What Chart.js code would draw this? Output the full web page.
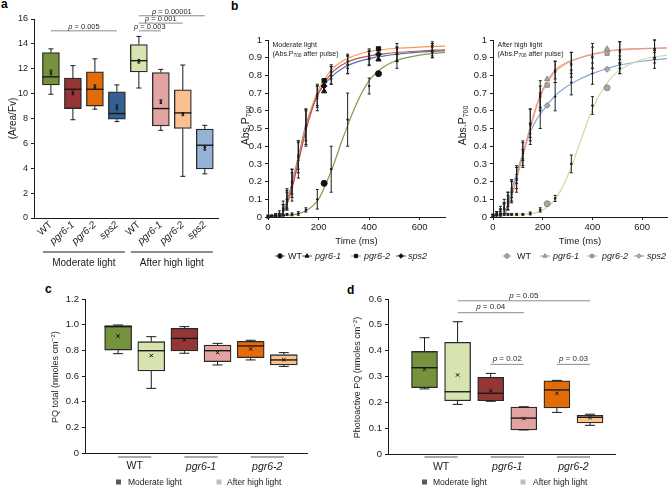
<!DOCTYPE html>
<html>
<head>
<meta charset="utf-8">
<title>PQ and P700 figure</title>
<script src="https://cdn.jsdelivr.net/npm/chart.js@4.4.1/dist/chart.umd.min.js"></script>
<style>
  html, body { margin: 0; padding: 0; background: #fff; }
  body { position: relative; width: 672px; height: 500px; overflow: hidden; font-family: "Liberation Sans", Arial, sans-serif; }
  canvas { position: absolute; }
  .tag { position: absolute; font-weight: bold; font-size: 12px; line-height: 12px; color: #000; }
</style>
</head>
<body>
<div class="tag" style="left:1px;top:-2px">a</div>
<div class="tag" style="left:231px;top:0px">b</div>
<div class="tag" style="left:45px;top:283px">c</div>
<div class="tag" style="left:347px;top:284px">d</div>
<canvas id="chartA" width="225" height="280" style="left:0;top:0"></canvas>
<canvas id="chartB1" width="250" height="280" style="left:200px;top:0"></canvas>
<canvas id="chartB2" width="232" height="280" style="left:440px;top:0"></canvas>
<canvas id="chartC" width="330" height="220" style="left:0;top:280px"></canvas>
<canvas id="chartD" width="342" height="220" style="left:330px;top:280px"></canvas>
<script>
const FONT = '"Liberation Sans", Arial, Helvetica, sans-serif';
Chart.defaults.font.family = FONT;
Chart.defaults.color = '#1a1a1a';
Chart.defaults.animation = false;
Chart.defaults.responsive = false;
Chart.defaults.plugins.legend.display = false;
Chart.defaults.plugins.tooltip.enabled = false;

// ---------- panel a : (Area/Fv)
const aGenotypes = ['WT', 'pgr6-1', 'pgr6-2', 'sps2', 'WT', 'pgr6-1', 'pgr6-2', 'sps2'];
const aGroups = ['Moderate light', 'After high light'];
const aLow    = [9.95, 7.9, 8.75, 7.75, 10.45, 7.05, 3.35, 3.55];
const aQ1     = [10.7, 8.8, 9.0, 7.95, 11.75, 7.4, 7.2, 3.95];
const aMedian = [11.35, 10.35, 10.35, 8.4, 12.65, 8.8, 8.45, 5.85];
const aQ3     = [13.3, 11.25, 11.75, 10.15, 13.95, 11.7, 10.3, 7.15];
const aHigh   = [13.6, 12.25, 12.8, 10.7, 14.6, 11.95, 12.3, 7.45];
const aMean   = [11.7, 10.05, 10.55, 8.9, 12.6, 9.35, 8.35, 5.6];
const aMeanErr = [0.2, 0.15, 0.15, 0.2, 0.15, 0.15, 0.12, 0.15];
const aTicks = [0, 2, 4, 6, 8, 10, 12, 14, 16];
const aPFrom  = [0, 4, 4, 4];
const aPTo    = [3, 5, 6, 7];
const aPLevel = [15.05, 15.05, 15.67, 16.26];
const aPValue = ['0.005', '0.003', '0.001', '0.00001'];

// ---------- panel b : Abs.P700 induction curves
const bSeries = ['WT', 'pgr6-1', 'pgr6-2', 'sps2'];
const bXTicks = [0, 200, 400, 600];
const bYTicks = [0, 0.1, 0.2, 0.3, 0.4, 0.5, 0.6, 0.7, 0.8, 0.9, 1];
const fitTime = [0, 25, 50, 75, 100, 125, 150, 175, 200, 250, 300, 350, 400, 450, 500, 600, 700];

const mlFitWT  = [0.005, 0.006, 0.008, 0.01, 0.013, 0.02, 0.035, 0.06, 0.1, 0.26, 0.46, 0.64, 0.77, 0.84, 0.88, 0.915, 0.93];
const mlFitP1  = [null, null, 0, 0.07, 0.19, 0.34, 0.49, 0.61, 0.7, 0.81, 0.865, 0.895, 0.91, 0.92, 0.928, 0.938, 0.945];
const mlFitP2  = [null, null, 0, 0.08, 0.21, 0.36, 0.51, 0.63, 0.72, 0.83, 0.885, 0.915, 0.935, 0.945, 0.952, 0.96, 0.965];
const mlFitSps = [null, null, 0.005, 0.09, 0.22, 0.37, 0.52, 0.62, 0.7, 0.79, 0.845, 0.875, 0.895, 0.908, 0.918, 0.932, 0.94];

const mlTime  = [0, 15, 30, 45, 60, 75, 95, 120, 150, 195, 222, 250, 315, 400, 437, 510, 650];
const mlWT     = [0.005, 0.005, 0.01, 0.01, 0.01, 0.015, 0.015, 0.02, 0.04, 0.10, 0.19, 0.27, 0.55, 0.74, 0.81, 0.88, 0.94];
const mlWTErr  = [0.005, 0.005, 0.005, 0.005, 0.005, 0.005, 0.008, 0.01, 0.012, 0.055, 0, 0.13, 0.15, 0.045, 0, 0.04, 0.04];
const mlP1     = [0, 0.005, 0.005, 0.01, 0.04, 0.09, 0.17, 0.32, 0.5, 0.67, 0.71, 0.8, 0.86, 0.895, 0.89, 0.92, 0.94];
const mlP1Err  = [0.005, 0.005, 0.005, 0.01, 0.03, 0.05, 0.08, 0.1, 0.1, 0.07, 0, 0.05, 0.05, 0.04, 0, 0.04, 0.03];
const mlP2     = [0, 0.005, 0.005, 0.01, 0.04, 0.1, 0.19, 0.34, 0.51, 0.69, 0.77, 0.82, 0.88, 0.92, 0.95, 0.95, 0.96];
const mlP2Err  = [0.005, 0.005, 0.005, 0.01, 0.03, 0.05, 0.08, 0.09, 0.1, 0.06, 0, 0.04, 0.04, 0.03, 0, 0.03, 0.03];
const mlSps    = [0.005, 0.005, 0.01, 0.02, 0.05, 0.1, 0.2, 0.35, 0.52, 0.68, 0.74, 0.8, 0.86, 0.9, 0.92, 0.92, 0.94];
const mlSpsErr = [0.005, 0.005, 0.01, 0.015, 0.04, 0.06, 0.07, 0.08, 0.09, 0.06, 0, 0.05, 0.05, 0.04, 0, 0.04, 0.04];

const hlFitWT  = [0.01, 0.01, 0.01, 0.011, 0.012, 0.014, 0.018, 0.025, 0.04, 0.1, 0.23, 0.42, 0.61, 0.74, 0.82, 0.89, 0.915];
const hlFitP1  = [null, null, 0.02, 0.12, 0.25, 0.38, 0.51, 0.63, 0.72, 0.83, 0.875, 0.9, 0.92, 0.935, 0.945, 0.952, 0.955];
const hlFitP2  = [null, null, 0.015, 0.11, 0.24, 0.37, 0.5, 0.62, 0.71, 0.82, 0.87, 0.9, 0.918, 0.932, 0.943, 0.95, 0.955];
const hlFitSps = [null, null, 0.03, 0.15, 0.27, 0.38, 0.48, 0.55, 0.6, 0.685, 0.74, 0.78, 0.81, 0.835, 0.855, 0.88, 0.895];

const hlTime  = [0, 15, 30, 45, 60, 75, 95, 120, 150, 190, 218, 250, 315, 400, 459, 510, 650];
const hlWT     = [0.01, 0.01, 0.01, 0.015, 0.015, 0.015, 0.015, 0.015, 0.02, 0.04, 0.075, 0.105, 0.30, 0.63, 0.73, 0.84, 0.90];
const hlWTErr  = [0.005, 0.005, 0.005, 0.005, 0.005, 0.005, 0.005, 0.005, 0.008, 0.012, 0, 0.017, 0.05, 0.05, 0, 0.03, 0.03];
const hlP1     = [0.01, 0.02, 0.03, 0.05, 0.09, 0.15, 0.22, 0.37, 0.53, 0.69, 0.78, 0.83, 0.87, 0.91, 0.95, 0.93, 0.95];
const hlP1Err  = [0.005, 0.01, 0.015, 0.03, 0.05, 0.06, 0.06, 0.05, 0.08, 0.08, 0, 0.05, 0.06, 0.07, 0, 0.06, 0.05];
const hlP2     = [0.01, 0.02, 0.03, 0.05, 0.08, 0.14, 0.21, 0.36, 0.52, 0.68, 0.745, 0.82, 0.86, 0.9, 0.925, 0.94, 0.95];
const hlP2Err  = [0.005, 0.01, 0.015, 0.03, 0.04, 0.06, 0.07, 0.07, 0.09, 0.06, 0, 0.06, 0.07, 0.06, 0, 0.05, 0.05];
const hlSps    = [0.01, 0.02, 0.04, 0.07, 0.1, 0.16, 0.24, 0.33, 0.47, 0.6, 0.63, 0.68, 0.76, 0.81, 0.835, 0.86, 0.89];
const hlSpsErr = [0.005, 0.01, 0.02, 0.03, 0.04, 0.05, 0.05, 0.05, 0.06, 0.1, 0, 0.08, 0.07, 0.06, 0, 0.05, 0.05];
const bigMarkers = [10, 14];

// ---------- panel c : PQ total
const cdGenotypes = ['WT', 'pgr6-1', 'pgr6-2'];
const cdLegend = ['Moderate light', 'After high light'];
const cTicks = [0, 0.2, 0.4, 0.6, 0.8, 1.0, 1.2];
const cLow    = [0.775, 0.505, 0.778, 0.687, 0.726, 0.676];
const cQ1     = [0.803, 0.64, 0.796, 0.713, 0.744, 0.687];
const cMedian = [0.985, 0.798, 0.894, 0.798, 0.835, 0.726];
const cQ3     = [0.993, 0.868, 0.972, 0.842, 0.871, 0.767];
const cHigh   = [0.998, 0.907, 0.985, 0.855, 0.879, 0.783];
const cMean   = [0.912, 0.76, 0.881, 0.783, 0.811, 0.728];

// ---------- panel d : photoactive PQ
const dTicks = [0, 0.1, 0.2, 0.3, 0.4, 0.5, 0.6];
const dLow    = [0.252, 0.192, 0.204, 0.093, 0.161, 0.111];
const dQ1     = [0.257, 0.206, 0.206, 0.093, 0.178, 0.12];
const dMedian = [0.334, 0.241, 0.235, 0.139, 0.248, 0.142];
const dQ3     = [0.397, 0.432, 0.297, 0.182, 0.283, 0.15];
const dHigh   = [0.45, 0.512, 0.312, 0.183, 0.285, 0.154];
const dMean   = [0.328, 0.306, 0.245, 0.137, 0.235, 0.141];
const dPFrom  = [1, 1, 2, 4];
const dPTo    = [5, 3, 3, 5];
const dPLevel = [0.593, 0.547, 0.347, 0.347];
const dPValue = ['0.05', '0.04', '0.02', '0.03'];

// styles
const colors8 = ['#76923c', '#943634', '#e36c09', '#376092', '#d7e4b0', '#e2a3a1', '#fac08f', '#95b3d7'];
const colors6 = ['#76923c', '#d7e4b0', '#943634', '#e2a3a1', '#e36c09', '#fac08f'];
const AXIS = '#1a1a1a';

function seg(ctx, x1, y1, x2, y2) {
    ctx.beginPath();
    ctx.moveTo(x1, y1);
    ctx.lineTo(x2, y2);
    ctx.stroke();
}

// text made of runs: [text, size, baseline shift, italic]
function runs(ctx, parts, x, y, align) {
    const fontOf = p => `${p[3] ? 'italic ' : ''}${p[1]}px ${FONT}`;
    let w = 0;
    parts.forEach(p => { ctx.font = fontOf(p); w += ctx.measureText(p[0]).width; });
    let cx = align === 'center' ? x - w / 2 : x;
    ctx.textAlign = 'left';
    ctx.textBaseline = 'alphabetic';
    parts.forEach(p => {
        ctx.font = fontOf(p);
        ctx.fillText(p[0], cx, y + (p[2] || 0));
        cx += ctx.measureText(p[0]).width;
    });
}

// whiskers, caps, medians (boxes themselves are floating bars)
const boxPlot = {
    id: 'boxPlot',
    afterDatasetsDraw(chart, args, o) {
        const {ctx} = chart;
        const x = chart.scales.x, y = chart.scales.y;
        const py = v => y.getPixelForValue(v);
        ctx.save();
        ctx.strokeStyle = '#1a1a1a';
        o.median.forEach((m, i) => {
            const px = x.getPixelForValue(i + o.start);
            ctx.lineWidth = 1;
            seg(ctx, px, py(o.low[i]), px, py(o.q1[i]));
            seg(ctx, px, py(o.q3[i]), px, py(o.high[i]));
            seg(ctx, px - o.cap, py(o.low[i]), px + o.cap, py(o.low[i]));
            seg(ctx, px - o.cap, py(o.high[i]), px + o.cap, py(o.high[i]));
            if (o.meanErr) {
                const lo = py(o.mean[i] - o.meanErr[i]), hi = py(o.mean[i] + o.meanErr[i]);
                seg(ctx, px, lo, px, hi);
                seg(ctx, px - 1.2, lo, px + 1.2, lo);
                seg(ctx, px - 1.2, hi, px + 1.2, hi);
            }
            ctx.lineWidth = 1.4;
            seg(ctx, px - o.half, py(m), px + o.half, py(m));
        });
        ctx.restore();
    }
};

const pBars = {
    id: 'pBars',
    afterDraw(chart, args, o) {
        const {ctx} = chart;
        const x = chart.scales.x, y = chart.scales.y;
        ctx.save();
        ctx.strokeStyle = '#8c8c8c';
        ctx.fillStyle = '#2a2a2a';
        ctx.lineWidth = 1;
        o.from.forEach((f, i) => {
            const x1 = x.getPixelForValue(f + o.start), x2 = x.getPixelForValue(o.to[i] + o.start);
            const yy = y.getPixelForValue(o.level[i]);
            seg(ctx, x1, yy, x2, yy);
            runs(ctx, [['p', o.size, 0, true], [' = ' + o.value[i], o.size, 0]], (x1 + x2) / 2, yy - o.lift, 'center');
        });
        ctx.restore();
    }
};

// underlines below the x axis, optional group names
const groupLines = {
    id: 'groupLines',
    afterDraw(chart, args, o) {
        const {ctx, chartArea} = chart;
        const x = chart.scales.x;
        ctx.save();
        ctx.strokeStyle = o.color;
        ctx.fillStyle = '#1a1a1a';
        ctx.lineWidth = 1;
        o.spans.forEach((s, i) => {
            const x1 = x.getPixelForValue(s[0]) - o.extend, x2 = x.getPixelForValue(s[1]) + o.extend;
            const yy = chartArea.bottom + o.lineGap;
            seg(ctx, x1, yy, x2, yy);
            if (o.names) runs(ctx, [[o.names[i], o.size, 0]], (x1 + x2) / 2, chartArea.bottom + o.textGap, 'center');
        });
        ctx.restore();
    }
};

const squareLegend = {
    id: 'squareLegend',
    afterDraw(chart, args, o) {
        const {ctx} = chart;
        ctx.save();
        o.names.forEach((n, i) => {
            ctx.fillStyle = o.colors[i];
            ctx.fillRect(o.boxX[i] - 2.5, o.y - 2.5, 5, 5);
            ctx.fillStyle = '#1a1a1a';
            runs(ctx, [[n, 8.5, 0]], o.textX[i], o.y + 3, 'left');
        });
        ctx.restore();
    }
};

const sideTitle = {
    id: 'sideTitle',
    afterDraw(chart, args, o) {
        const {ctx, chartArea} = chart;
        ctx.save();
        ctx.fillStyle = '#1a1a1a';
        ctx.translate(o.x, (chartArea.top + chartArea.bottom) / 2 + (o.dy || 0));
        ctx.rotate(-Math.PI / 2);
        runs(ctx, o.parts, 0, o.size * 0.36, 'center');
        ctx.restore();
    }
};

const errBars = {
    id: 'errBars',
    afterDatasetsDraw(chart) {
        const {ctx} = chart;
        const y = chart.scales.y;
        ctx.save();
        ctx.strokeStyle = '#1f1f1f';
        ctx.lineWidth = 1;
        chart.data.datasets.forEach((ds, di) => {
            if (!ds.errors) return;
            chart.getDatasetMeta(di).data.forEach((pt, i) => {
                const e = ds.errors[i];
                if (!e) return;
                const v = ds.data[i].y;
                const y1 = y.getPixelForValue(v - e), y2 = y.getPixelForValue(v + e);
                seg(ctx, pt.x, y1, pt.x, y2);
                seg(ctx, pt.x - 1.5, y1, pt.x + 1.5, y1);
                seg(ctx, pt.x - 1.5, y2, pt.x + 1.5, y2);
            });
        });
        ctx.restore();
    }
};

const curveNotes = {
    id: 'curveNotes',
    afterDraw(chart, args, o) {
        const {ctx, chartArea: ca} = chart;
        ctx.save();
        ctx.fillStyle = '#1a1a1a';
        runs(ctx, [[o.note, 7, 0]], ca.left + 4.5, ca.top + 7, 'left');
        runs(ctx, [['(Abs.P', 7, 0], ['700', 4.8, 1.8], [' after pulse)', 7, 0]], ca.left + 4.5, ca.top + 15.5, 'left');
        // legend
        const n = bSeries.length;
        bSeries.forEach((name, i) => {
            const fit = chart.data.datasets[i], obs = chart.data.datasets[i + n];
            const mx = o.markX[i];
            ctx.strokeStyle = fit.borderColor;
            ctx.lineWidth = 1.2;
            seg(ctx, mx - 5, o.y, mx + 5, o.y);
            ctx.fillStyle = o.markFill;
            ctx.strokeStyle = o.markEdge;
            ctx.lineWidth = 1;
            Chart.helpers.drawPoint(ctx, {pointStyle: obs.pointStyle, radius: 2.3, borderWidth: 1, rotation: 0}, mx, o.y);
            ctx.fillStyle = '#1a1a1a';
            runs(ctx, [[name, 9, 0, i > 0]], o.textX[i], o.y + 3.2, 'left');
        });
        ctx.restore();
    }
};

function boxChart(id, cfg) {
    return new Chart(document.getElementById(id), {
        type: 'bar',
        data: {
            datasets: [{
                data: cfg.q1.map((q, i) => ({x: i + cfg.start, y: [q, cfg.q3[i]]})),
                backgroundColor: cfg.colors,
                borderColor: '#2a2a2a',
                borderWidth: 1.3,
                borderSkipped: false,
                barThickness: cfg.boxWidth,
                order: 2
            }, {
                type: 'scatter',
                data: cfg.mean.map((m, i) => ({x: i + cfg.start, y: m})),
                pointStyle: 'crossRot',
                pointRadius: cfg.meanSize,
                borderColor: '#111',
                borderWidth: 1,
                order: 1
            }]
        },
        options: {
            layout: {padding: cfg.padding},
            scales: {
                x: {
                    type: 'linear', min: cfg.xMin, max: cfg.xMax, offset: false,
                    grid: {display: false, drawTicks: false, tickLength: 0},
                    border: {color: AXIS, width: 1},
                    afterBuildTicks: s => { s.ticks = cfg.xTicks.map(v => ({value: v})); },
                    ticks: {
                        autoSkip: false, color: '#1a1a1a',
                        minRotation: cfg.rotation, maxRotation: cfg.rotation, padding: cfg.tickPad,
                        callback: (v, i) => cfg.xLabels[i],
                        font: c => ({size: cfg.xFont, style: cfg.xLabels[c.index] === 'WT' ? 'normal' : 'italic'})
                    },
                    afterFit: s => { s.height = cfg.xHeight; }
                },
                y: {
                    min: cfg.yTicks[0], max: cfg.yTicks[cfg.yTicks.length - 1],
                    afterBuildTicks: s => { s.ticks = cfg.yTicks.map(v => ({value: v})); },
                    ticks: {padding: 3, color: '#1a1a1a', font: {size: cfg.yFont}, callback: cfg.yFormat},
                    grid: {drawOnChartArea: false, tickLength: 3, color: AXIS},
                    border: {color: AXIS, width: 1},
                    afterFit: s => { s.width = cfg.yWidth; }
                }
            },
            plugins: {
                boxPlot: {start: cfg.start, low: cfg.low, q1: cfg.q1, median: cfg.median, q3: cfg.q3, high: cfg.high,
                          mean: cfg.mean, meanErr: cfg.meanErr, cap: cfg.cap, half: cfg.boxWidth / 2},
                pBars: cfg.pBars,
                groupLines: cfg.groups,
                squareLegend: cfg.legend,
                sideTitle: cfg.title
            }
        },
        plugins: [boxPlot, sideTitle, groupLines].concat(cfg.pBars ? [pBars] : []).concat(cfg.legend ? [squareLegend] : [])
    });
}

// panel a
boxChart('chartA', {
    start: 0, low: aLow, q1: aQ1, median: aMedian, q3: aQ3, high: aHigh, mean: aMean, meanErr: aMeanErr,
    colors: colors8, boxWidth: 17, cap: 2.5, meanSize: 1.8,
    padding: {top: 19, right: 7, left: 0, bottom: 0},
    xMin: -0.77, xMax: 7.6, xTicks: aGenotypes.map((g, i) => i), xLabels: aGenotypes,
    rotation: 42, tickPad: 1, xFont: 10, xHeight: 62,
    yTicks: aTicks, yFont: 9, yWidth: 34, yFormat: v => String(v),
    title: {x: 12.5, size: 10, parts: [['(Area/Fv)', 10, 0]]},
    groups: {spans: [[0, 3], [4, 7]], extend: 8, lineGap: 34, textGap: 47.5, color: '#1a1a1a', names: aGroups, size: 10},
    pBars: {start: 0, from: aPFrom, to: aPTo, level: aPLevel, value: aPValue, size: 7.5, lift: 1.8}
});

// panel c
boxChart('chartC', {
    start: 1, low: cLow, q1: cQ1, median: cMedian, q3: cQ3, high: cHigh, mean: cMean,
    colors: colors6, boxWidth: 27, cap: 5, meanSize: 2.4,
    padding: {top: 19, right: 23, left: 0, bottom: 0},
    xMin: 0, xMax: 6.7, xTicks: [1.5, 3.5, 5.5], xLabels: cdGenotypes,
    rotation: 0, tickPad: 7, xFont: 10.5, xHeight: 46.7,
    yTicks: cTicks, yFont: 9.5, yWidth: 85, yFormat: v => v === 0 ? '0' : v.toFixed(1),
    title: {x: 55, size: 9, dy: 1, parts: [['PQ total (nmoles cm', 9, 0], ['\u22122', 6.2, -3.6], [')', 9, 0]]},
    groups: {spans: [[1, 2], [3, 4], [5, 6]], extend: 0, lineGap: 3.7, color: '#555'},
    legend: {names: cdLegend, colors: ['#595959', '#bfbfbf'], boxX: [118.5, 219], textX: [128, 227], y: 202}
});

// panel d
boxChart('chartD', {
    start: 1, low: dLow, q1: dQ1, median: dMedian, q3: dQ3, high: dHigh, mean: dMean,
    colors: colors6, boxWidth: 26, cap: 5, meanSize: 2.4,
    padding: {top: 19, right: 57, left: 0, bottom: 0},
    xMin: -0.103, xMax: 6.755, xTicks: [1.5, 3.5, 5.5], xLabels: cdGenotypes,
    rotation: 0, tickPad: 7, xFont: 10.5, xHeight: 46,
    yTicks: dTicks, yFont: 9.5, yWidth: 58, yFormat: v => v === 0 ? '0' : v.toFixed(1),
    title: {x: 27, size: 9, dy: 1, parts: [['Photoactive PQ (nmoles cm', 9, 0], ['\u22122', 6.2, -3.6], [')', 9, 0]]},
    groups: {spans: [[1, 2], [3, 4], [5, 6]], extend: 0, lineGap: 3, color: '#555'},
    pBars: {start: 1, from: dPFrom, to: dPTo, level: dPLevel, value: dPValue, size: 8, lift: 3.3},
    legend: {names: cdLegend, colors: ['#595959', '#bfbfbf'], boxX: [94.5, 193], textX: [103, 203], y: 202}
});

// panel b
function curveChart(id, cfg) {
    const styles = ['circle', 'triangle', 'rect', 'rectRot'];
    const fits = cfg.fits.map((vals, s) => ({
        data: fitTime.map((t, i) => ({x: t, y: vals[i]})),
        borderColor: cfg.lineColors[s],
        borderWidth: 1.2,
        pointRadius: 0,
        cubicInterpolationMode: 'monotone',
        fill: false,
        order: 3
    }));
    const obs = cfg.means.map((vals, s) => ({
        data: cfg.time.map((t, i) => ({x: t, y: vals[i]})),
        errors: cfg.errs[s],
        showLine: false,
        pointStyle: styles[s],
        pointRadius: cfg.time.map((t, i) => bigMarkers.includes(i) ? 3 : 0.9),
        pointBackgroundColor: cfg.time.map((t, i) => bigMarkers.includes(i) ? cfg.markFill : '#1a1a1a'),
        pointBorderColor: cfg.time.map((t, i) => bigMarkers.includes(i) ? cfg.markEdge : '#1a1a1a'),
        pointBorderWidth: 1,
        order: 1
    }));
    return new Chart(document.getElementById(id), {
        type: 'line',
        data: {datasets: fits.concat(obs)},
        options: {
            layout: {padding: {top: 40, right: cfg.padRight, left: 0, bottom: 0}},
            scales: {
                x: {
                    type: 'linear', min: 0, max: 700,
                    afterBuildTicks: s => { s.ticks = bXTicks.map(v => ({value: v})); },
                    ticks: {font: {size: 9.5}, padding: 2, color: '#1a1a1a'},
                    grid: {drawOnChartArea: false, tickLength: 3, color: AXIS},
                    border: {color: AXIS, width: 1},
                    title: {display: true, text: 'Time (ms)', color: '#1a1a1a', font: {size: 9.5}, padding: {top: 0, bottom: 32.6}},
                    afterFit: s => { s.height = 63; }
                },
                y: {
                    min: 0, max: 1,
                    afterBuildTicks: s => { s.ticks = bYTicks.map(v => ({value: v})); },
                    ticks: {font: {size: 9.5}, padding: 3, color: '#1a1a1a', callback: v => String(v)},
                    grid: {drawOnChartArea: false, tickLength: 3, color: AXIS},
                    border: {color: AXIS, width: 1},
                    afterFit: s => { s.width = cfg.yWidth; }
                }
            },
            plugins: {
                sideTitle: {x: cfg.titleX, size: 10.5, dy: -3, parts: [['Abs.P', 10.5, 0], ['700', 7, 2.5]]},
                curveNotes: {note: cfg.note, markX: cfg.markX, textX: cfg.textX, y: 256, markFill: cfg.markFill, markEdge: cfg.markEdge}
            }
        },
        plugins: [errBars, sideTitle, curveNotes]
    });
}

curveChart('chartB1', {
    note: 'Moderate light', time: mlTime,
    fits: [mlFitWT, mlFitP1, mlFitP2, mlFitSps],
    means: [mlWT, mlP1, mlP2, mlSps],
    errs: [mlWTErr, mlP1Err, mlP2Err, mlSpsErr],
    lineColors: ['#809b45', '#c0504d', '#f59a55', '#4f73b3'],
    markFill: '#111', markEdge: '#111',
    yWidth: 68, padRight: 2, titleX: 45,
    markX: [80, 107, 156, 201], textX: [88, 115, 164, 208]
});

curveChart('chartB2', {
    note: 'After high light', time: hlTime,
    fits: [hlFitWT, hlFitP1, hlFitP2, hlFitSps],
    means: [hlWT, hlP1, hlP2, hlSps],
    errs: [hlWTErr, hlP1Err, hlP2Err, hlSpsErr],
    lineColors: ['#cddc9c', '#e39a92', '#f6b088', '#88a8d4'],
    markFill: '#a8a8a8', markEdge: '#8a8a8a',
    yWidth: 53, padRight: 0, titleX: 22,
    markX: [67, 105, 152, 199], textX: [77, 113, 162, 207]
});
</script>
</body>
</html>
